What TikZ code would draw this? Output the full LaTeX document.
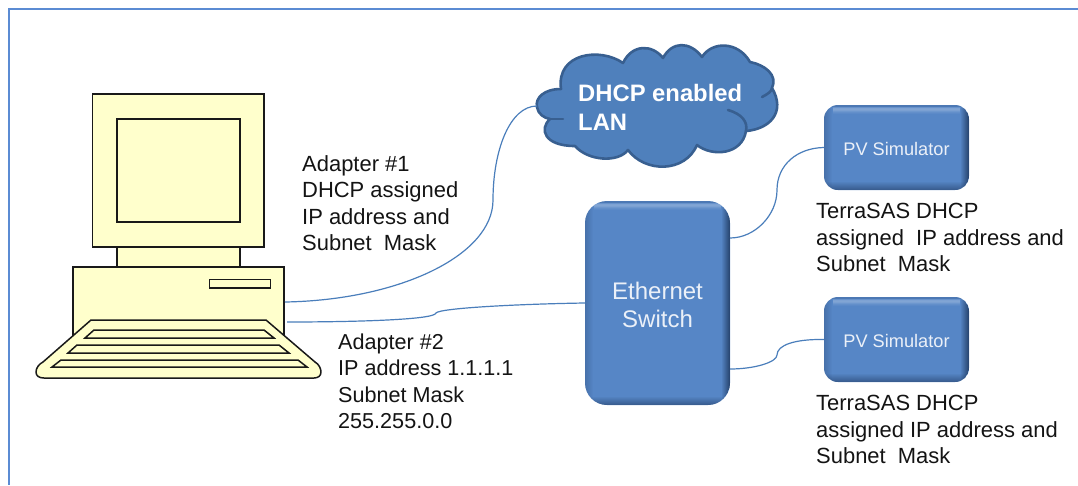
\documentclass[tikz,border=0pt]{standalone}
\usepackage{fontspec}
\setmainfont{Liberation Sans}
\definecolor{frameblue}{HTML}{5B8BD3}
\definecolor{wire}{HTML}{4A7EBB}
\definecolor{boxblue}{HTML}{5686C6}
\definecolor{cloudfill}{HTML}{4F80BC}
\definecolor{cloudline}{HTML}{385F90}
\definecolor{pcyellow}{HTML}{FFFFCC}
\definecolor{edgedark}{HTML}{14294A}
\newcommand{\bevelstrips}{%
  \begin{scope}[sharp corners]
  \foreach \i in {0,...,7}{
    \pgfmathsetmacro{\op}{0.66*(1-\i/8)}
    \pgfmathsetmacro{\j}{\i+1}
    \fill[edgedark,opacity=\op] ([xshift=-\i pt]bb.south east) rectangle ([xshift=-\j pt]bb.north east);
    \pgfmathsetmacro{\opb}{0.42*(1-\i/8)}
    \fill[edgedark,opacity=\opb] ([yshift=\i pt]bb.south west) rectangle ([yshift=\j pt]bb.south east);
    \pgfmathsetmacro{\opc}{0.22*(1-\i/8)}
    \fill[edgedark,opacity=\opc] ([xshift=\i pt]bb.south west) rectangle ([xshift=\j pt]bb.north west);
  }
  \fill[edgedark,opacity=0.14] (bb.north west) rectangle ([yshift=-2pt]bb.north east);
  \foreach \i/\o in {2/0.10,3/0.24,4/0.26,5/0.22,6/0.14,7/0.08,8/0.04}{
    \pgfmathsetmacro{\j}{\i+1}
    \fill[white,opacity=\o] ([xshift=9pt,yshift=-\i pt]bb.north west) rectangle ([xshift=-9pt,yshift=-\j pt]bb.north east);
  }
  \end{scope}
}
\tikzset{
  label text/.style={anchor=north west,inner sep=0pt,align=left,text=black!92,
    font=\fontsize{21.95}{26.6}\selectfont},
  pcpart/.style={draw=black!90,line width=1.5pt,fill=pcyellow},
  cable/.style={draw=wire,line width=1.2pt},
}
\begin{document}
\begin{tikzpicture}[x=1pt,y=-1pt]
\useasboundingbox (0,0) rectangle (1078,485);
\fill[white] (0,0) rectangle (1078,485);
\draw[frameblue,line width=2pt] (1078,9) -- (9,9) -- (9,485);

% computer
\node[pcpart,minimum width=211pt,minimum height=70pt,inner sep=0pt] (pc) at (178.5,302) {};
\node[pcpart,minimum width=123pt,minimum height=20pt,inner sep=0pt] (neck) at (178.5,257) {};
\node[pcpart,minimum width=171.5pt,minimum height=153pt,inner sep=0pt] (monitor) at (178.25,170.5) {};
\node[pcpart,minimum width=123pt,minimum height=103pt,inner sep=0pt] (screen) at (178.5,170.5) {};
\node[pcpart,minimum width=61pt,minimum height=8.5pt,inner sep=0pt] (slot) at (240,283.75) {};
\draw[pcpart,line join=round] (91,320) -- (266,320) -- (315,362)
  .. controls (319,364) and (321,369) .. (321,372)
  .. controls (321,376) and (318,378) .. (314,378) -- (44,378)
  .. controls (39,378) and (36,376) .. (36,372)
  .. controls (36,368) and (39,364) .. (43,362) -- cycle;
\draw[pcpart] (94,330) -- (264,330) -- (274,338) -- (85,338) -- cycle;
\draw[pcpart] (77,345) -- (279,345) -- (289,353) -- (68,353) -- cycle;
\draw[pcpart] (61,360) -- (298,360) -- (307,367) -- (52,367) -- cycle;

% cloud
\coordinate (cloudwest) at (537,106);
\draw[fill=cloudfill,draw=cloudline,line width=2.6pt,line join=round]
  (561,89) .. controls (544,89) and (535,98) .. (537,107)
  .. controls (538,114) and (544,118) .. (550,119)
  .. controls (539,129) and (544,146) .. (575,146)
  .. controls (588,161) and (618,163) .. (628,150)
  .. controls (645,173) and (685,173) .. (697,145)
  .. controls (712,157) and (742,155) .. (746,131)
  .. controls (770,129) and (786,112) .. (772,88)
  .. controls (778,75) and (765,65) .. (750,62)
  .. controls (738,41) and (712,41) .. (702,57)
  .. controls (690,41) and (672,41) .. (663,58)
  .. controls (652,44) and (632,44) .. (623,63)
  .. controls (600,47) and (556,53) .. (561,89) -- cycle;
\draw[cloudline,line width=2.6pt,line cap=round]
  (550,119) .. controls (555,119) and (558,119) .. (563,119);
\draw[cloudline,line width=2.6pt,line cap=round]
  (728,110) .. controls (742,114) and (748,122) .. (746,131);
\draw[cloudline,line width=2.6pt,line cap=round]
  (772,88) .. controls (772,91) and (768,94) .. (762,97);
\node[inner sep=0pt,anchor=north west,align=left,text=white,
  font=\fontsize{23.8}{29}\selectfont\bfseries] (lan) at (578,84) {DHCP enabled\\LAN};

% boxes
\foreach \nm/\cx/\cy/\w/\h/\r/\fs/\ty/\txt in {
  switch/657.5/303/145/204/22/24/305/{Ethernet\\Switch},
  pvone/896.5/147.5/145/85/14/18.2/148.5/{PV Simulator},
  pvtwo/896.5/339.5/145/85/14/18.2/340.5/{PV Simulator}}{
  \node[draw=none,fill=boxblue,rounded corners=\r pt,minimum width=\w pt,minimum height=\h pt,
    inner sep=0pt,path picture={
      \coordinate (bbA) at (path picture bounding box.center);
      \node[minimum width=\w pt,minimum height=\h pt,inner sep=0pt,outer sep=0pt] (bb) at (bbA) {};
      \bevelstrips
    }] (\nm) at (\cx,\cy) {};
  \node[inner sep=0pt,align=center,text=white!88!boxblue,
    font=\fontsize{\fs}{28}\selectfont] (\nm text) at (\cx,\ty) {\txt};
}

% free ends of the cables
\coordinate (pcone) at (285,302);
\coordinate (pctwo) at (287,322);
\coordinate (swone) at (730,238);
\coordinate (swtwo) at (730,369);
\draw[cable] (pcone) .. controls (400,300) and (493,255) .. (493,200)
  .. controls (493,150) and (510,106) .. (cloudwest);
\draw[cable] (pctwo) .. controls (350,322) and (435,320) .. (436,313)
  .. controls (440,308) and (520,304) .. (switch.west);
\draw[cable] (swone) .. controls (755,238) and (777,215) .. (777,190)
  .. controls (777,165) and (797,148) .. (pvone.west);
\draw[cable] (swtwo) .. controls (755,369) and (777,362) .. (777,355)
  .. controls (777,345) and (795,339) .. (pvtwo.west);

% labels
\node[label text] (adapterone) at (302,155) {Adapter \#1\\DHCP assigned\\IP address and\\Subnet\ \ Mask};
\node[label text,font=\fontsize{21.6}{26.5}\selectfont] (adaptertwo) at (338,333.5) {Adapter \#2\\IP address 1.1.1.1\\Subnet Mask\\255.255.0.0};
\node[label text] (terraone) at (816,203) {TerraSAS DHCP\\assigned\ \ IP address and\\Subnet\ \ Mask};
\node[label text] (terratwo) at (816,395) {TerraSAS DHCP\\assigned IP address and\\Subnet\ \ Mask};
\end{tikzpicture}
\end{document}
